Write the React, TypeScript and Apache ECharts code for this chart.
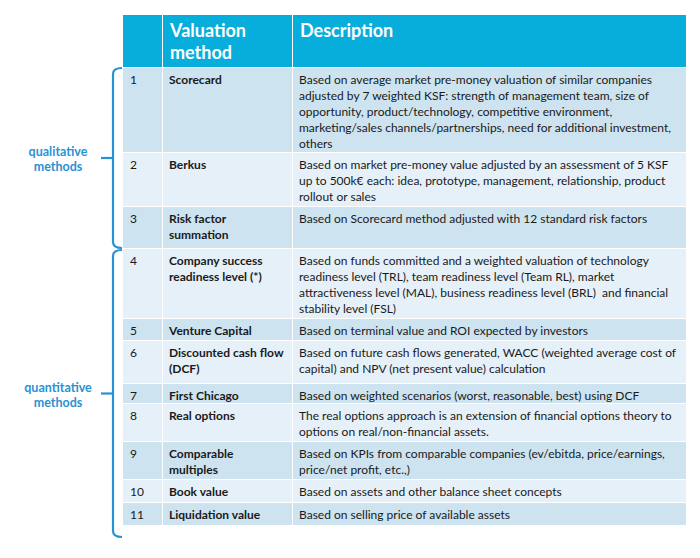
import React, { useEffect, useRef } from "react";
import * as echarts from "echarts";

const headers = ["", "Valuation\nmethod", "Description"];
const numbers = ["1", "2", "3", "4", "5", "6", "7", "8", "9", "10", "11"];
const methods = [
  "Scorecard",
  "Berkus",
  "Risk factor\nsummation",
  "Company success\nreadiness level (*)",
  "Venture Capital",
  "Discounted cash flow\n(DCF)",
  "First Chicago",
  "Real options",
  "Comparable\nmultiples",
  "Book value",
  "Liquidation value",
];
const descriptions = [
  "Based on average market pre-money valuation of similar companies\nadjusted by 7 weighted KSF: strength of management team, size of\nopportunity, product/technology, competitive environment,\nmarketing/sales channels/partnerships, need for additional investment,\nothers",
  "Based on market pre-money value adjusted by an assessment of 5 KSF\nup to 500k€ each: idea, prototype, management, relationship, product\nrollout or sales",
  "Based on Scorecard method adjusted with 12 standard risk factors",
  "Based on funds committed and a weighted valuation of technology\nreadiness level (TRL), team readiness level (Team RL), market\nattractiveness level (MAL), business readiness level (BRL)  and financial\nstability level (FSL)",
  "Based on terminal value and ROI expected by investors",
  "Based on future cash flows generated, WACC (weighted average cost of\ncapital) and NPV (net present value) calculation",
  "Based on weighted scenarios (worst, reasonable, best) using DCF",
  "The real options approach is an extension of financial options theory to\noptions on real/non-financial assets.",
  "Based on KPIs from comparable companies (ev/ebitda, price/earnings,\nprice/net profit, etc.,)",
  "Based on assets and other balance sheet concepts",
  "Based on selling price of available assets",
];
const groups = [
  { label: "qualitative\nmethods", firstRow: 0, lastRow: 2 },
  { label: "quantitative\nmethods", firstRow: 3, lastRow: 10 },
];

// layout
const colX = [123, 163, 293];
const colW = [39, 129, 393];
const headerTop = 15;
const headerBottom = 67;
const rowTops = [68, 153, 207, 249, 319, 341, 384, 404, 442, 480, 503, 526];
const HEADER = "#07AEDC";
const DARK = "#CDE3F0";
const LIGHT = "#E6F0F8";
const BLUE = "#2893D4";
const FONT = "Lato, 'Open Sans', sans-serif";
const FS = 12;

export default function App() {
  const ref = useRef<HTMLDivElement>(null);
  useEffect(() => {
    if (!ref.current) return;
    const chart = echarts.init(ref.current, undefined, { renderer: "svg" });
    const els: any[] = [];
    // header
    for (let c = 0; c < 3; c++) {
      els.push({
        type: "rect",
        shape: { x: colX[c], y: headerTop, width: colW[c], height: headerBottom - headerTop },
        style: { fill: HEADER },
      });
      if (headers[c]) {
        els.push({
          type: "text",
          x: colX[c] + 7,
          y: headerTop + 4,
          style: {
            text: headers[c],
            fill: "#ffffff",
            font: `bold 18px ${FONT}`,
            lineHeight: 22,
            verticalAlign: "top",
          },
        });
      }
    }
    // rows
    for (let r = 0; r < numbers.length; r++) {
      const top = rowTops[r];
      const h = rowTops[r + 1] - top - 1;
      const fill = r % 2 === 0 ? DARK : LIGHT;
      for (let c = 0; c < 3; c++) {
        els.push({
          type: "rect",
          shape: { x: colX[c], y: top, width: colW[c], height: h },
          style: { fill },
        });
      }
      const texts = [numbers[r], methods[r], descriptions[r]];
      for (let c = 0; c < 3; c++) {
        els.push({
          type: "text",
          x: colX[c] + (c === 0 ? 7 : 6),
          y: top + 3.5,
          style: {
            text: texts[c],
            fill: "#1a1a1a",
            font: `${c === 1 ? "bold " : ""}${FS}px ${FONT}`,
            lineHeight: 16,
            verticalAlign: "top",
          },
        });
      }
    }
    // brackets
    groups.forEach((g, gi) => {
      const y0 = rowTops[g.firstRow] + (gi === 0 ? 0 : 1);
      const y1 = gi === groups.length - 1 ? rowTops[g.lastRow + 1] + 11 : rowTops[g.lastRow + 1] - 1;
      const xl = 113;
      const xr = 122;
      const st = { stroke: BLUE, lineWidth: 2.2, fill: "none" };
      els.push({ type: "bezierCurve", shape: { x1: xr, y1: y0, x2: xl, y2: y0 + 6, cpx1: xl, cpy1: y0 }, style: st });
      els.push({ type: "line", shape: { x1: xl, y1: y0 + 6, x2: xl, y2: y1 - 6 }, style: st });
      els.push({ type: "bezierCurve", shape: { x1: xl, y1: y1 - 6, x2: xr, y2: y1, cpx1: xl, cpy1: y1 }, style: st });
      const mid = (y0 + y1) / 2;
      els.push({ type: "line", shape: { x1: xl, y1: mid, x2: 101, y2: mid }, style: st });
      els.push({
        type: "text",
        x: 58,
        y: mid - 14,
        style: {
          text: g.label,
          fill: BLUE,
          font: `bold 12.5px ${FONT}`,
          lineHeight: 15,
          align: "center",
          verticalAlign: "top",
        },
      });
    });
    chart.setOption({ animation: false, graphic: { elements: els } });
    return () => chart.dispose();
  }, []);
  return (
    <div
      ref={ref}
      style={{ position: "fixed", left: 0, top: 0, width: 700, height: 558, background: "#ffffff" }}
    />
  );
}
